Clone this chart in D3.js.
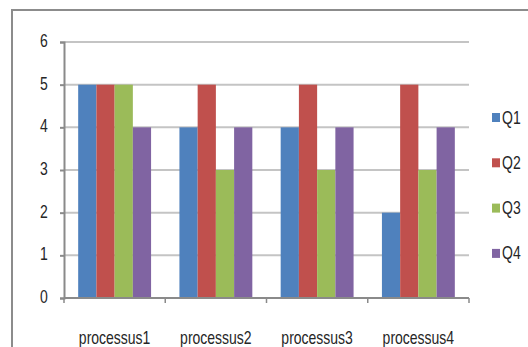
<!DOCTYPE html>
<html>
<head>
<meta charset="utf-8">
<script src="https://cdn.jsdelivr.net/npm/d3@7"></script>
<style>
  html, body { margin: 0; padding: 0; background: #fff; }
  svg { display: block; }
  text { font-family: "Liberation Sans", Arial, sans-serif; fill: #262626; }
</style>
</head>
<body>
<svg id="chart" width="528" height="347"></svg>
<script>
const categories = ["processus1", "processus2", "processus3", "processus4"];
const seriesNames = ["Q1", "Q2", "Q3", "Q4"];
const seriesColors = ["#4f81bd", "#c0504d", "#9bbb59", "#8064a2"];
const q1 = [5, 4, 4, 2];
const q2 = [5, 5, 5, 5];
const q3 = [5, 3, 3, 3];
const q4 = [4, 4, 4, 4];
const yTicks = [0, 1, 2, 3, 4, 5, 6];

const seriesValues = [q1, q2, q3, q4];
const rows = categories.map((c, i) => ({
  category: c,
  values: seriesNames.map((s, j) => ({ key: s, value: seriesValues[j][i], color: seriesColors[j] }))
}));

const svg = d3.select("#chart");
const plot = { left: 64, right: 469, top: 42, bottom: 298 };
const squeeze = 0.8; // horizontally condensed labels
const fontSize = 17.5;

// outer chart frame
svg.append("path")
  .attr("d", `M12,${347 + 5} L12,10 L${528 + 5},10`)
  .attr("fill", "none")
  .attr("stroke", "#8c8c8c")
  .attr("stroke-width", 2);

const x0 = d3.scaleBand()
  .domain(categories)
  .range([plot.left, plot.right])
  .paddingInner(0.28)
  .paddingOuter(0.14);

const x1 = d3.scaleBand()
  .domain(seriesNames)
  .range([0, x0.bandwidth()])
  .padding(0);

const y = d3.scaleLinear()
  .domain([0, 6])
  .range([plot.bottom, plot.top]);

// horizontal gridlines
svg.append("g")
  .selectAll("line")
  .data(yTicks.filter(t => t > 0))
  .join("line")
  .attr("x1", plot.left)
  .attr("x2", plot.right)
  .attr("y1", d => y(d))
  .attr("y2", d => y(d))
  .attr("stroke", "#c4c4c4")
  .attr("stroke-width", 2);

// bars
svg.append("g")
  .selectAll("g")
  .data(rows)
  .join("g")
  .attr("transform", d => `translate(${x0(d.category)},0)`)
  .selectAll("rect")
  .data(d => d.values)
  .join("rect")
  .attr("x", d => x1(d.key))
  .attr("y", d => y(d.value))
  .attr("width", x1.bandwidth())
  .attr("height", d => y(0) - y(d.value))
  .attr("fill", d => d.color);

// y axis
const yAxis = svg.append("g")
  .attr("transform", `translate(${plot.left},0)`)
  .call(d3.axisLeft(y).tickValues(yTicks).tickFormat(d3.format("d")).tickSize(4));
yAxis.select(".domain").attr("stroke", "#8a8a8a").attr("stroke-width", 2);
yAxis.selectAll(".tick line").attr("stroke", "#8a8a8a").attr("stroke-width", 2);
yAxis.selectAll(".tick text")
  .attr("x", null)
  .attr("dy", "0.35em")
  .attr("text-anchor", "middle")
  .attr("transform", `translate(-20,-1.5) scale(${squeeze},1)`)
  .attr("font-size", fontSize)
  .attr("fill", "#262626");

// x axis with ticks at category boundaries
const step = x0.step();
const boundaries = d3.range(categories.length + 1).map(i => plot.left + i * step);
const xAxisG = svg.append("g");
xAxisG.append("line")
  .attr("x1", plot.left).attr("x2", plot.right)
  .attr("y1", y(0)).attr("y2", y(0))
  .attr("stroke", "#8a8a8a").attr("stroke-width", 2);
xAxisG.selectAll("line.tk")
  .data(boundaries)
  .join("line")
  .attr("class", "tk")
  .attr("x1", d => d).attr("x2", d => d)
  .attr("y1", y(0)).attr("y2", y(0) + 5)
  .attr("stroke", "#8a8a8a").attr("stroke-width", 1.5);
xAxisG.selectAll("text")
  .data(categories)
  .join("text")
  .attr("transform", d => `translate(${x0(d) + x0.bandwidth() / 2},344) scale(${squeeze},1)`)
  .attr("text-anchor", "middle")
  .attr("font-size", fontSize)
  .text(d => d);

// legend
const legend = svg.append("g")
  .selectAll("g")
  .data(seriesNames)
  .join("g")
  .attr("transform", (d, i) => `translate(492,${118 + i * 45.3})`);
legend.append("rect")
  .attr("x", 0).attr("y", -5)
  .attr("width", 8).attr("height", 9)
  .attr("fill", (d, i) => seriesColors[i]);
legend.append("text")
  .attr("transform", `translate(10,5.5) scale(${squeeze},1)`)
  .attr("font-size", fontSize)
  .text(d => d);
</script>
</body>
</html>
